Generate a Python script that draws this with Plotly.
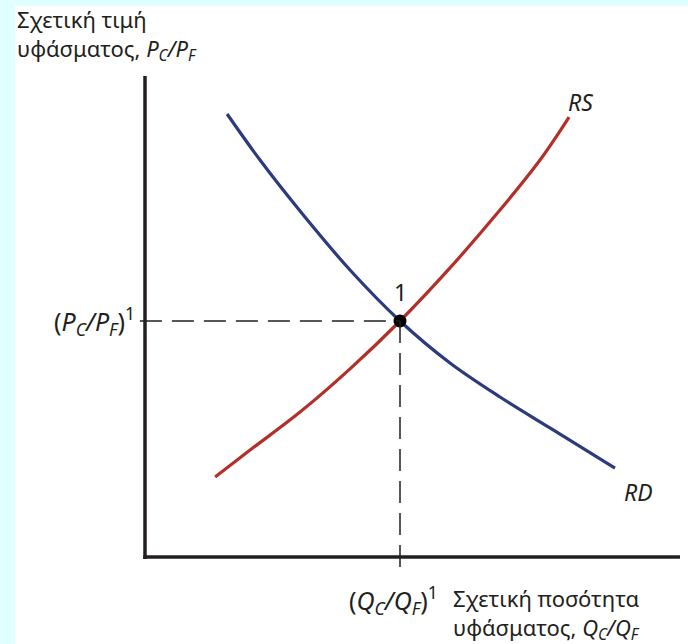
import plotly.graph_objects as go

# Relative demand (RD) curve: relative quantity Q_C/Q_F vs relative price P_C/P_F
rd_q = [0.322, 0.451, 0.608, 0.804, 1.000, 1.196, 1.392, 1.588, 1.843]
rd_p = [1.877, 1.682, 1.466, 1.216, 1.000, 0.822, 0.678, 0.547, 0.377]

# Relative supply (RS) curve
rs_q = [0.275, 0.412, 0.608, 0.804, 1.000, 1.196, 1.392, 1.549, 1.663]
rs_p = [0.339, 0.453, 0.614, 0.797, 1.000, 1.225, 1.470, 1.682, 1.864]

# Equilibrium point 1
eq_q = [1.0]
eq_p = [1.0]

# Axis extents (data units)
axis_x_end = 2.098
axis_y_end = 2.038

BLUE = "#2C3A7E"
RED = "#B3302A"
TXT = "#231F20"
FONT = "Noto Sans"

fig = go.Figure()
fig.add_trace(go.Scatter(x=rd_q, y=rd_p, mode="lines",
                         line=dict(color=BLUE, width=3.2, shape="spline"),
                         showlegend=False, hoverinfo="skip"))
fig.add_trace(go.Scatter(x=rs_q, y=rs_p, mode="lines",
                         line=dict(color=RED, width=3.2, shape="spline"),
                         showlegend=False, hoverinfo="skip"))

# dashed guide lines
fig.add_shape(type="line", x0=-0.02, x1=eq_q[0], y0=eq_p[0], y1=eq_p[0],
              line=dict(color=TXT, width=1.5, dash="22px,10px"))
fig.add_shape(type="line", x0=eq_q[0], x1=eq_q[0], y0=eq_p[0], y1=-0.05,
              line=dict(color=TXT, width=1.5, dash="22px,10px"))

# axes
fig.add_shape(type="line", x0=0, x1=0, y0=-0.008, y1=axis_y_end,
              line=dict(color=TXT, width=3.5))
fig.add_shape(type="line", x0=-0.007, x1=axis_x_end, y0=0, y1=0,
              line=dict(color=TXT, width=3.5))

fig.add_trace(go.Scatter(x=eq_q, y=eq_p, mode="markers",
                         marker=dict(color="black", size=13),
                         showlegend=False, hoverinfo="skip"))

FS = 23
font = dict(family=FONT, size=FS, color=TXT)
ann = [
    dict(x=0, y=2.334, xref="paper", xanchor="left", yanchor="top", align="left",
         text="Σχετική τιμή<br>υφάσματος, <i>P<sub>C</sub>/P<sub>F</sub></i>",
         size=22, yshift=4),
    dict(x=-0.031, y=1.0, xanchor="right", yanchor="middle",
         text="(<i>P<sub>C</sub>/P<sub>F</sub></i>)<sup>1</sup>", size=25),
    dict(x=1, y=-0.182, xanchor="center", yanchor="middle", xshift=-7,
         text="(<i>Q<sub>C</sub>/Q<sub>F</sub></i>)<sup>1</sup>", size=25),
    dict(x=1.2, y=-0.102, xanchor="left", yanchor="top", align="left",
         text="Σχετική ποσότητα<br>υφάσματος, <i>Q<sub>C</sub>/Q<sub>F</sub></i>",
         size=22),
    dict(x=1, y=1.123, xanchor="center", yanchor="middle", text="1"),
    dict(x=1.706, y=1.928, xanchor="center", yanchor="middle", text="<i>RS</i>"),
    dict(x=1.937, y=0.275, xanchor="center", yanchor="middle", text="<i>RD</i>"),
]
for a in ann:
    a.setdefault("xref", "x")
    a["yref"] = "y"
    a["showarrow"] = False
    a["font"] = dict(font, size=a.pop("size", FS))
fig.update_layout(annotations=ann)

fig.update_layout(
    width=688, height=644,
    margin=dict(l=15, r=0, t=6, b=0),
    paper_bgcolor="#E0FFFF",
    plot_bgcolor="white",
    xaxis=dict(range=[-0.5098, 2.1294], visible=False, fixedrange=True),
    yaxis=dict(range=[-0.3686, 2.3347], visible=False, fixedrange=True),
)

fig.write_html("out.html", config={"displayModeBar": False},
               post_script="document.body.style.margin='0px';document.body.style.padding='0px';")
